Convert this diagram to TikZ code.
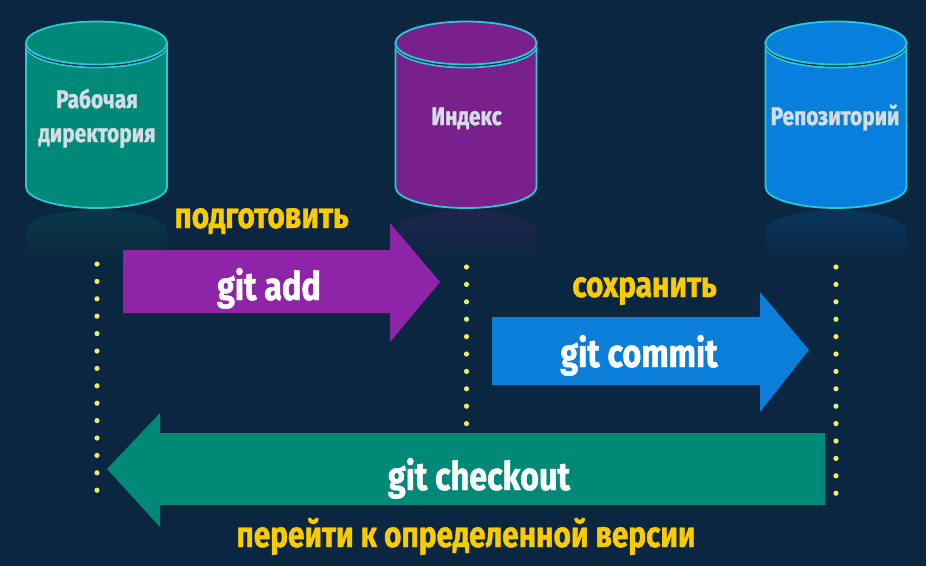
\documentclass[tikz,border=0pt]{standalone}
\usepackage{fontspec}
\usetikzlibrary{fadings}
\newfontfamily\condf{Fira Sans}[FakeStretch=0.82, BoldFeatures={FakeBold=1.2}]
\definecolor{bg}{RGB}{11,38,64}
\definecolor{cylteal}{RGB}{0,137,120}
\definecolor{cylpurple}{RGB}{122,32,140}
\definecolor{cylblue}{RGB}{6,128,220}
\definecolor{rim}{RGB}{40,200,215}
\definecolor{arrpurple}{RGB}{142,36,168}
\definecolor{arrblue}{RGB}{10,126,216}
\definecolor{arrteal}{RGB}{0,137,118}
\definecolor{lbl}{RGB}{250,204,0}
\definecolor{dotc}{RGB}{238,238,100}
\definecolor{cyltext}{RGB}{212,220,228}
\tikzset{
  cmdtext/.style={text=white, inner sep=0pt, anchor=base, font=\condf\bfseries\fontsize{39.5}{42}\selectfont},
  lbltext/.style={text=lbl, inner sep=0pt, anchor=base, font=\condf\bfseries\fontsize{36.3}{38}\selectfont},
  cyltxt/.style={text=cyltext, inner sep=0pt, anchor=base, font=\condf\bfseries\fontsize{25.5}{27}\selectfont},
  dotline/.style={dotc, line width=5.2pt, line cap=round, dash pattern=on 0pt off 17.4pt},
}
% #1 = centre x, #2 = fill colour
\newcommand{\dbcylinder}[2]{%
  \fill[#2, opacity=0.18, path fading=south]
    ({#1-70.5},231) arc[start angle=180, end angle=360, x radius=70.5, y radius=21]
    -- ({#1+70.5},266) -- ({#1-70.5},266) -- cycle;
  \path[fill=#2, draw=rim, line width=1.8pt]
    ({#1-70.5},46) -- ({#1-70.5},187)
    arc[start angle=180, end angle=0, x radius=70.5, y radius=21]
    -- ({#1+70.5},46)
    arc[start angle=0, end angle=180, x radius=70.5, y radius=21.5] -- cycle;
  \draw[bg, line width=1pt] ({#1+70.5},44.5)
    arc[start angle=0, end angle=180, x radius=70.5, y radius=21.5];
  \path[fill=#2, draw=rim, line width=1.8pt] (#1,43) ellipse[x radius=70.5, y radius=21.5];
}
\begin{document}
\begin{tikzpicture}[x=1pt,y=-1pt]
\fill[bg] (0,0) rectangle (926,566);
\useasboundingbox (0,0) rectangle (926,566);

% cylinders
\dbcylinder{96.5}{cylteal}
\dbcylinder{466}{cylpurple}
\dbcylinder{836}{cylblue}
\node[cyltxt] (wd1) at (97,108) {Рабочая};
\node[cyltxt] (wd2) at (97,142) {директория};
\node[cyltxt] (idx) at (466.5,125) {Индекс};
\node[cyltxt] (repo) at (835,125) {Репозиторий};

% dotted guides
\coordinate (d1a) at (97,264);  \coordinate (d1b) at (97,491.5);
\coordinate (d2a) at (466.5,267); \coordinate (d2b) at (466.5,424.5);
\coordinate (d3a) at (836,267); \coordinate (d3b) at (836,494.5);
\draw[dotline] (d1a) -- (d1b);
\draw[dotline] (d2a) -- (d2b);
\draw[dotline] (d3a) -- (d3b);

% arrows
\fill[arrpurple] (123,250) -- (390,250) -- (390,223) -- (440,282) -- (390,342) -- (390,313) -- (123,313) -- cycle;
\fill[arrblue] (492,317) -- (760,317) -- (760,292) -- (809,350) -- (760,412) -- (760,385) -- (492,385) -- cycle;
\fill[arrteal] (825,433) -- (160,433) -- (160,413) -- (107,469) -- (160,527) -- (160,505) -- (825,505) -- cycle;

% labels
\node[lbltext] (prep) at (261.5,228) {подготовить};
\node[cmdtext] (add) at (269,300) {git add};
\node[lbltext] (save) at (644.5,297) {сохранить};
\node[cmdtext] (commit) at (639,367) {git commit};
\node[cmdtext] (checkout) at (479,490) {git checkout};
\node[lbltext] (goto) at (466,547) {перейти к определенной версии};
\end{tikzpicture}
\end{document}
